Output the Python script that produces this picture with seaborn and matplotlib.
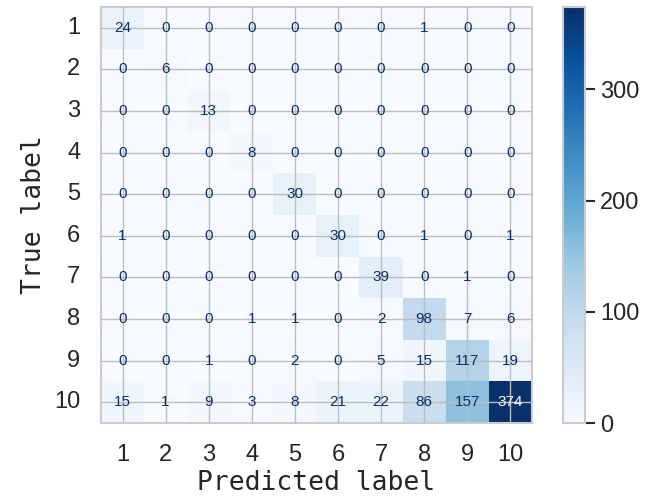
"""Confusion matrix heatmap (10 classes)."""

import matplotlib
matplotlib.use("Agg")
import matplotlib.pyplot as plt
import numpy as np
import pandas as pd
import seaborn as sns

# Class labels
labels = ["1", "2", "3", "4", "5", "6", "7", "8", "9", "10"]

# Confusion matrix rows (true label)
row_1 = [24, 0, 0, 0, 0, 0, 0, 1, 0, 0]
row_2 = [0, 6, 0, 0, 0, 0, 0, 0, 0, 0]
row_3 = [0, 0, 13, 0, 0, 0, 0, 0, 0, 0]
row_4 = [0, 0, 0, 8, 0, 0, 0, 0, 0, 0]
row_5 = [0, 0, 0, 0, 30, 0, 0, 0, 0, 0]
row_6 = [1, 0, 0, 0, 0, 30, 0, 1, 0, 1]
row_7 = [0, 0, 0, 0, 0, 0, 39, 0, 1, 0]
row_8 = [0, 0, 0, 1, 1, 0, 2, 98, 7, 6]
row_9 = [0, 0, 1, 0, 2, 0, 5, 15, 117, 19]
row_10 = [15, 1, 9, 3, 8, 21, 22, 86, 157, 374]

cm = pd.DataFrame(
    [row_1, row_2, row_3, row_4, row_5, row_6, row_7, row_8, row_9, row_10],
    index=labels, columns=labels,
)

sns.set_style("whitegrid")
plt.rcParams["font.family"] = ["Liberation Sans", "DejaVu Sans"]

fig = plt.figure(figsize=(6.46, 5.0), dpi=100)
ax = fig.add_axes([0.1563, 0.154, 0.667, 0.832])
cax = fig.add_axes([0.8715, 0.154, 0.034, 0.832])

vmax = cm.values.max()
sns.heatmap(
    cm, ax=ax, cbar_ax=cax, cmap="Blues", vmin=0, vmax=vmax,
    annot=True, fmt="d", annot_kws={"fontsize": 11},
)

# text colours as in sklearn's display: dark on light cells, light on dark
thresh = vmax / 2.0
blues = plt.get_cmap("Blues")
for txt, val in zip(ax.texts, cm.values.ravel()):
    txt.set_color(blues(1.0) if val < thresh else blues(0.0))

# grid lines through the cell centres, drawn over the cells
ax.grid(True, color="#bdbdbd", linewidth=1.0)
ax.set_axisbelow(False)
for s in ax.spines.values():
    s.set_visible(True)
    s.set_color("#cccccc")
    s.set_linewidth(1.5)

ax.tick_params(axis="both", length=0, labelsize=17, colors="#262626")
ax.tick_params(axis="y", pad=15)
ax.tick_params(axis="x", pad=15)
plt.setp(ax.get_yticklabels(), rotation=0)
plt.setp(ax.get_xticklabels(), rotation=0)

ax.set_xlabel("Predicted label", fontsize=19, family="DejaVu Sans Mono", color="#262626", labelpad=3)
ax.set_ylabel("True label", fontsize=19, family="DejaVu Sans Mono", color="#262626", labelpad=5)

# colorbar styling
cbar = ax.collections[0].colorbar
cbar.set_ticks([0, 100, 200, 300])
cbar.outline.set_visible(True)
cbar.outline.set_linewidth(1.5)
cbar.outline.set_edgecolor("#cccccc")
cax.tick_params(right=True, length=7, width=1.5, color="#262626", labelsize=17, labelcolor="#262626", pad=4)

plt.savefig("out.png", dpi=100)
plt.close()
